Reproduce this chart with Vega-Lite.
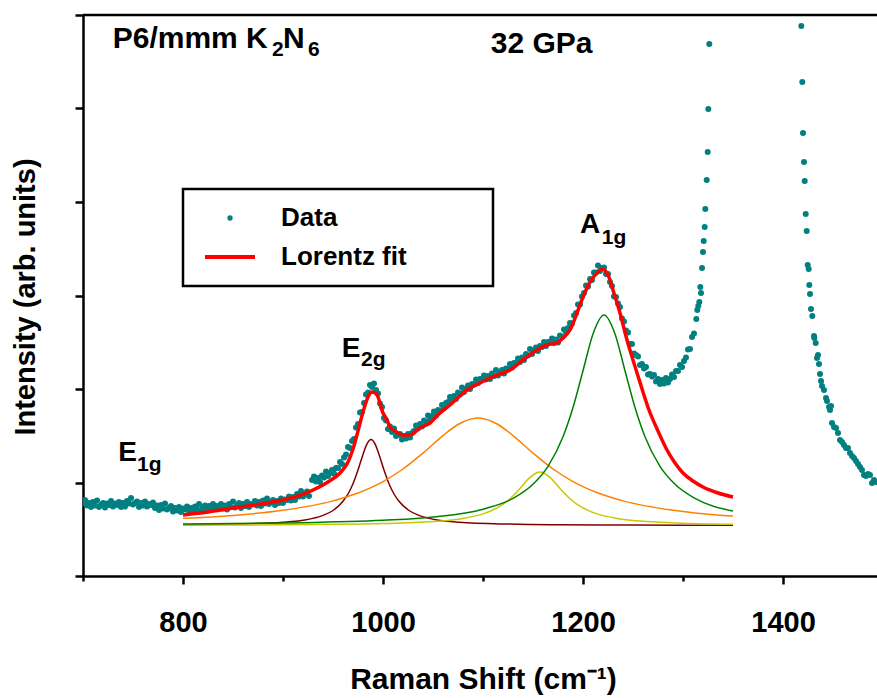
{
  "$schema": "https://vega.github.io/schema/vega-lite/v6.json",
  "autosize": {"type": "none"},
  "padding": {"left": 83, "top": 15, "right": 0, "bottom": 122},
  "width": 794,
  "height": 561,
  "background": "white",
  "config": {
    "view": {"stroke": null},
    "font": "Liberation Sans",
    "legend": {
      "orient": "none", "legendX": 100, "legendY": 174,
      "padding": 16, "rowPadding": 13,
      "strokeColor": "black", "strokeWidth": 2.5,
      "symbolOffset": 18, "labelOffset": 38, "symbolSize": 28, "symbolStrokeWidth": 0,
      "labelFont": "Liberation Sans", "labelFontWeight": "bold", "labelFontSize": 26, "labelColor": "black",
      "labelLimit": 0, "labelBaseline": "middle"
    }
  },
  "encoding": {
    "x": {"field": "x", "type": "quantitative", "scale": {"domain": [700, 1494], "nice": false, "zero": false},
      "axis": {"orient": "bottom", "values": [700,800,900,1000,1100,1200,1300,1400], "format": "d",
        "labelExpr": "datum.value % 200 == 0 ? datum.label : ''",
        "labelFont": "Liberation Sans", "labelFontWeight": "bold", "labelFontSize": 29, "labelColor": "black",
        "labelPadding": 24, "labelFlush": false, "labelOverlap": false,
        "tickSize": {"condition": {"test": "datum.value % 200 == 0", "value": 8}, "value": 5},
        "tickWidth": 2.5, "tickColor": "black", "domainColor": "black", "domainWidth": 2.5, "grid": false,
        "title": "Raman Shift (cm⁻¹)", "titleFont": "Liberation Sans", "titleFontWeight": "bold", "titleFontSize": 30, "titleColor": "black",
        "titleX": 400, "titleY": 112, "titleBaseline": "alphabetic", "titleAlign": "center"}},
    "y": {"field": "y", "type": "quantitative", "scale": {"domain": [0, 561], "nice": false, "zero": false},
      "axis": {"orient": "left", "values": [0, 93.5, 187, 280.5, 374, 467.5, 561], "labels": false,
        "tickSize": 8, "tickWidth": 2.5, "tickColor": "black", "domainColor": "black", "domainWidth": 2.5, "grid": false,
        "title": "Intensity (arb. units)", "titleFont": "Liberation Sans", "titleFontWeight": "bold", "titleFontSize": 29, "titleColor": "black",
        "titleX": -49, "titleY": 281.5, "titleAngle": 270, "titleBaseline": "alphabetic", "titleAlign": "center"}}
  },
  "datasets": {
    "pts": [
      {"s":"Data","x":700,"y":73},{"s":"Data","x":702,"y":76},{"s":"Data","x":704,"y":70.5},{"s":"Data","x":706,"y":73},{"s":"Data","x":708,"y":69},{"s":"Data","x":710,"y":74},{"s":"Data","x":712,"y":70.5},{"s":"Data","x":714,"y":75.5},{"s":"Data","x":716,"y":69},{"s":"Data","x":718,"y":71},
      {"s":"Data","x":720,"y":73},{"s":"Data","x":722,"y":68.5},{"s":"Data","x":724,"y":72.5},{"s":"Data","x":726,"y":71},{"s":"Data","x":728,"y":75},{"s":"Data","x":730,"y":69.5},{"s":"Data","x":732,"y":72.5},{"s":"Data","x":734,"y":71},{"s":"Data","x":736,"y":74},{"s":"Data","x":738,"y":69},
      {"s":"Data","x":740,"y":73},{"s":"Data","x":742,"y":69.5},{"s":"Data","x":744,"y":75},{"s":"Data","x":746,"y":72.5},{"s":"Data","x":748,"y":78},{"s":"Data","x":750,"y":71.5},{"s":"Data","x":752,"y":73},{"s":"Data","x":754,"y":74.5},{"s":"Data","x":756,"y":69},{"s":"Data","x":758,"y":73},
      {"s":"Data","x":760,"y":70.5},{"s":"Data","x":762,"y":74.5},{"s":"Data","x":764,"y":69.5},{"s":"Data","x":766,"y":72},{"s":"Data","x":768,"y":71},{"s":"Data","x":770,"y":73.5},{"s":"Data","x":772,"y":68},{"s":"Data","x":774,"y":70.5},{"s":"Data","x":776,"y":66},{"s":"Data","x":778,"y":71},
      {"s":"Data","x":780,"y":67.5},{"s":"Data","x":782,"y":72.5},{"s":"Data","x":784,"y":66.5},{"s":"Data","x":786,"y":68},{"s":"Data","x":788,"y":70},{"s":"Data","x":790,"y":64.5},{"s":"Data","x":792,"y":68},{"s":"Data","x":794,"y":65.5},{"s":"Data","x":796,"y":69},{"s":"Data","x":798,"y":64},
      {"s":"Data","x":800,"y":67.5},{"s":"Data","x":802,"y":66.5},{"s":"Data","x":804,"y":69.5},{"s":"Data","x":806,"y":65},{"s":"Data","x":808,"y":68},{"s":"Data","x":810,"y":64.5},{"s":"Data","x":812,"y":69.5},{"s":"Data","x":814,"y":66.5},{"s":"Data","x":816,"y":72},{"s":"Data","x":818,"y":66},
      {"s":"Data","x":820,"y":68.5},{"s":"Data","x":822,"y":70.5},{"s":"Data","x":824,"y":65.5},{"s":"Data","x":826,"y":70},{"s":"Data","x":828,"y":68},{"s":"Data","x":830,"y":72},{"s":"Data","x":832,"y":67},{"s":"Data","x":834,"y":70},{"s":"Data","x":836,"y":69},{"s":"Data","x":838,"y":72},
      {"s":"Data","x":840,"y":67.5},{"s":"Data","x":842,"y":70.5},{"s":"Data","x":844,"y":66.5},{"s":"Data","x":846,"y":72},{"s":"Data","x":848,"y":69},{"s":"Data","x":850,"y":74.5},{"s":"Data","x":852,"y":68.5},{"s":"Data","x":854,"y":70.5},{"s":"Data","x":856,"y":73},{"s":"Data","x":858,"y":68},
      {"s":"Data","x":860,"y":72},{"s":"Data","x":862,"y":70},{"s":"Data","x":864,"y":74},{"s":"Data","x":866,"y":69},{"s":"Data","x":868,"y":72},{"s":"Data","x":870,"y":71.5},{"s":"Data","x":872,"y":75},{"s":"Data","x":874,"y":70.5},{"s":"Data","x":876,"y":74},{"s":"Data","x":878,"y":70},
      {"s":"Data","x":880,"y":75.5},{"s":"Data","x":882,"y":72.5},{"s":"Data","x":884,"y":77.5},{"s":"Data","x":886,"y":72},{"s":"Data","x":888,"y":74},{"s":"Data","x":890,"y":76},{"s":"Data","x":892,"y":71},{"s":"Data","x":894,"y":75},{"s":"Data","x":896,"y":73},{"s":"Data","x":898,"y":77.5},
      {"s":"Data","x":900,"y":73},{"s":"Data","x":902,"y":76.5},{"s":"Data","x":904,"y":76},{"s":"Data","x":906,"y":79.5},{"s":"Data","x":908,"y":75.5},{"s":"Data","x":910,"y":79},{"s":"Data","x":912,"y":76},{"s":"Data","x":914,"y":82},{"s":"Data","x":916,"y":79.5},{"s":"Data","x":918,"y":85},
      {"s":"Data","x":920,"y":79.5},{"s":"Data","x":922,"y":82},{"s":"Data","x":924,"y":84.5},{"s":"Data","x":926,"y":80},
      {"s":"Data","x":929,"y":96},{"s":"Data","x":931,"y":99.5},{"s":"Data","x":933,"y":94.5},{"s":"Data","x":935,"y":98},{"s":"Data","x":937,"y":94},{"s":"Data","x":939,"y":100.5},{"s":"Data","x":941,"y":98.5},{"s":"Data","x":943,"y":104.5},{"s":"Data","x":945,"y":100},{"s":"Data","x":947,"y":103},
      {"s":"Data","x":949,"y":106},{"s":"Data","x":951,"y":102.5},{"s":"Data","x":953,"y":108},{"s":"Data","x":955,"y":108},{"s":"Data","x":957,"y":114},{"s":"Data","x":959,"y":112},{"s":"Data","x":961,"y":118.5},{"s":"Data","x":963,"y":121.5},{"s":"Data","x":965,"y":129},{"s":"Data","x":967,"y":128},
      {"s":"Data","x":969,"y":135},{"s":"Data","x":971,"y":137},{"s":"Data","x":973,"y":148.5},{"s":"Data","x":975,"y":152},{"s":"Data","x":977,"y":163.5},{"s":"Data","x":979,"y":164},{"s":"Data","x":981,"y":173},{"s":"Data","x":983,"y":181.5},{"s":"Data","x":985,"y":183.5},{"s":"Data","x":987,"y":191},
      {"s":"Data","x":989,"y":189},{"s":"Data","x":991,"y":192.5},{"s":"Data","x":993,"y":186},{"s":"Data","x":995,"y":182.5},{"s":"Data","x":997,"y":172.5},{"s":"Data","x":999,"y":169},{"s":"Data","x":1001,"y":158},{"s":"Data","x":1003,"y":155.5},{"s":"Data","x":1005,"y":147},{"s":"Data","x":1007,"y":149.5},
      {"s":"Data","x":1009,"y":144},{"s":"Data","x":1011,"y":147.5},{"s":"Data","x":1013,"y":140},{"s":"Data","x":1015,"y":141},{"s":"Data","x":1017,"y":142},{"s":"Data","x":1019,"y":136.5},{"s":"Data","x":1021,"y":140},{"s":"Data","x":1023,"y":137.5},{"s":"Data","x":1025,"y":142},{"s":"Data","x":1027,"y":138.5},
      {"s":"Data","x":1029,"y":143},{"s":"Data","x":1031,"y":145},{"s":"Data","x":1033,"y":150.5},{"s":"Data","x":1035,"y":147.5},{"s":"Data","x":1037,"y":152},{"s":"Data","x":1039,"y":149.5},{"s":"Data","x":1041,"y":155.5},{"s":"Data","x":1043,"y":154},{"s":"Data","x":1045,"y":160.5},{"s":"Data","x":1047,"y":156},
      {"s":"Data","x":1049,"y":160},{"s":"Data","x":1051,"y":164.5},{"s":"Data","x":1053,"y":160.5},{"s":"Data","x":1055,"y":166},{"s":"Data","x":1057,"y":165},{"s":"Data","x":1059,"y":171},{"s":"Data","x":1061,"y":168},{"s":"Data","x":1063,"y":173},{"s":"Data","x":1065,"y":174},{"s":"Data","x":1067,"y":179},
      {"s":"Data","x":1069,"y":175.5},{"s":"Data","x":1071,"y":180},{"s":"Data","x":1073,"y":177},{"s":"Data","x":1075,"y":183.5},{"s":"Data","x":1077,"y":182},{"s":"Data","x":1079,"y":188.5},{"s":"Data","x":1081,"y":184},{"s":"Data","x":1083,"y":187},{"s":"Data","x":1085,"y":190.5},{"s":"Data","x":1087,"y":187},
      {"s":"Data","x":1089,"y":192},{"s":"Data","x":1091,"y":191.5},{"s":"Data","x":1093,"y":196.5},{"s":"Data","x":1095,"y":193},{"s":"Data","x":1097,"y":197},{"s":"Data","x":1099,"y":197},{"s":"Data","x":1101,"y":200.5},{"s":"Data","x":1103,"y":196.5},{"s":"Data","x":1105,"y":200},{"s":"Data","x":1107,"y":197},
      {"s":"Data","x":1109,"y":202.5},{"s":"Data","x":1111,"y":200},{"s":"Data","x":1113,"y":206},{"s":"Data","x":1115,"y":200.5},{"s":"Data","x":1117,"y":203},{"s":"Data","x":1119,"y":206},{"s":"Data","x":1121,"y":202.5},{"s":"Data","x":1123,"y":207.5},{"s":"Data","x":1125,"y":207},{"s":"Data","x":1127,"y":212},
      {"s":"Data","x":1129,"y":208.5},{"s":"Data","x":1131,"y":213},{"s":"Data","x":1133,"y":213},{"s":"Data","x":1135,"y":217.5},{"s":"Data","x":1137,"y":214},{"s":"Data","x":1139,"y":218.5},{"s":"Data","x":1141,"y":216},{"s":"Data","x":1143,"y":222},{"s":"Data","x":1145,"y":220.5},{"s":"Data","x":1147,"y":227},
      {"s":"Data","x":1149,"y":222},{"s":"Data","x":1151,"y":225.5},{"s":"Data","x":1153,"y":228.5},{"s":"Data","x":1155,"y":225},{"s":"Data","x":1157,"y":230},{"s":"Data","x":1159,"y":229},{"s":"Data","x":1161,"y":234},{"s":"Data","x":1163,"y":230},{"s":"Data","x":1165,"y":234},{"s":"Data","x":1167,"y":234},
      {"s":"Data","x":1169,"y":237.5},{"s":"Data","x":1171,"y":233},{"s":"Data","x":1173,"y":236.5},{"s":"Data","x":1175,"y":233.5},{"s":"Data","x":1177,"y":240.5},{"s":"Data","x":1179,"y":239},{"s":"Data","x":1181,"y":246.5},{"s":"Data","x":1183,"y":243.5},{"s":"Data","x":1185,"y":248},{"s":"Data","x":1187,"y":253},
      {"s":"Data","x":1189,"y":252.5},{"s":"Data","x":1191,"y":260.5},{"s":"Data","x":1193,"y":263},{"s":"Data","x":1195,"y":271.5},{"s":"Data","x":1197,"y":271.5},{"s":"Data","x":1199,"y":279.5},{"s":"Data","x":1201,"y":283},{"s":"Data","x":1203,"y":290.5},{"s":"Data","x":1205,"y":289.5},{"s":"Data","x":1207,"y":297},
      {"s":"Data","x":1209,"y":296},{"s":"Data","x":1211,"y":303.5},{"s":"Data","x":1213,"y":303.5},{"s":"Data","x":1215,"y":310.5},{"s":"Data","x":1217,"y":305},{"s":"Data","x":1219,"y":308},{"s":"Data","x":1221,"y":308.5},{"s":"Data","x":1223,"y":302},{"s":"Data","x":1225,"y":302},{"s":"Data","x":1227,"y":294},
      {"s":"Data","x":1229,"y":290},{"s":"Data","x":1231,"y":279.5},{"s":"Data","x":1233,"y":279},{"s":"Data","x":1235,"y":272.5},{"s":"Data","x":1237,"y":269},{"s":"Data","x":1239,"y":257.5},{"s":"Data","x":1241,"y":254.5},{"s":"Data","x":1243,"y":245.5},{"s":"Data","x":1245,"y":243.5},{"s":"Data","x":1247,"y":232},
      {"s":"Data","x":1249,"y":232},{"s":"Data","x":1251,"y":222.5},{"s":"Data","x":1253,"y":221},{"s":"Data","x":1255,"y":219.5},{"s":"Data","x":1257,"y":211},{"s":"Data","x":1259,"y":212},{"s":"Data","x":1261,"y":207.5},{"s":"Data","x":1263,"y":209},{"s":"Data","x":1265,"y":201.5},{"s":"Data","x":1267,"y":202},
      {"s":"Data","x":1269,"y":199.5},{"s":"Data","x":1271,"y":201},{"s":"Data","x":1273,"y":194.5},{"s":"Data","x":1275,"y":197},{"s":"Data","x":1277,"y":192},{"s":"Data","x":1279,"y":196},{"s":"Data","x":1281,"y":192.5},{"s":"Data","x":1283,"y":198},{"s":"Data","x":1285,"y":193.5},{"s":"Data","x":1287,"y":197},
      {"s":"Data","x":1289,"y":201.5},{"s":"Data","x":1291,"y":199},{"s":"Data","x":1293,"y":205},{"s":"Data","x":1295,"y":205},{"s":"Data","x":1297,"y":211},{"s":"Data","x":1299,"y":209},{"s":"Data","x":1301,"y":215},{"s":"Data","x":1303,"y":218.5},{"s":"Data","x":1305,"y":226.5},{"s":"Data","x":1307,"y":227},
      {"s":"Data","x":1309,"y":239},{"s":"Data","x":1311,"y":242.5},
      {"s":"Data","x":1313.3,"y":257},{"s":"Data","x":1314.3,"y":266},{"s":"Data","x":1315.3,"y":270},{"s":"Data","x":1316.3,"y":274},{"s":"Data","x":1317.3,"y":289},{"s":"Data","x":1318,"y":283},{"s":"Data","x":1319,"y":308},{"s":"Data","x":1320,"y":324},{"s":"Data","x":1320.7,"y":335},{"s":"Data","x":1321.7,"y":349},
      {"s":"Data","x":1322.3,"y":367},{"s":"Data","x":1323.7,"y":396},{"s":"Data","x":1324.7,"y":424},{"s":"Data","x":1325.3,"y":467},{"s":"Data","x":1326.3,"y":532},
      {"s":"Data","x":1418.3,"y":550},{"s":"Data","x":1419.3,"y":494},{"s":"Data","x":1420,"y":443},{"s":"Data","x":1421,"y":414},{"s":"Data","x":1421.7,"y":395},{"s":"Data","x":1422.7,"y":362},{"s":"Data","x":1423.7,"y":345},{"s":"Data","x":1424.7,"y":311},{"s":"Data","x":1425.7,"y":307},{"s":"Data","x":1426.3,"y":291},
      {"s":"Data","x":1427,"y":282},{"s":"Data","x":1428,"y":267},{"s":"Data","x":1429.3,"y":260},{"s":"Data","x":1431,"y":240},{"s":"Data","x":1431.3,"y":238},{"s":"Data","x":1432.7,"y":233},{"s":"Data","x":1434,"y":218},{"s":"Data","x":1435,"y":221},{"s":"Data","x":1436,"y":212},{"s":"Data","x":1437,"y":202},
      {"s":"Data","x":1438,"y":195},{"s":"Data","x":1439,"y":190},{"s":"Data","x":1441,"y":186},{"s":"Data","x":1443,"y":178},{"s":"Data","x":1444,"y":175},{"s":"Data","x":1446,"y":169},{"s":"Data","x":1447,"y":166},{"s":"Data","x":1448,"y":170},{"s":"Data","x":1449,"y":153},{"s":"Data","x":1451,"y":149},
      {"s":"Data","x":1453,"y":148},{"s":"Data","x":1455,"y":143},{"s":"Data","x":1457,"y":136},{"s":"Data","x":1459,"y":134},{"s":"Data","x":1461,"y":131},{"s":"Data","x":1463,"y":128},{"s":"Data","x":1465,"y":128},{"s":"Data","x":1467,"y":123},{"s":"Data","x":1469,"y":120},{"s":"Data","x":1471,"y":118},
      {"s":"Data","x":1473,"y":115},{"s":"Data","x":1475,"y":112},{"s":"Data","x":1477,"y":109},{"s":"Data","x":1479,"y":106},{"s":"Data","x":1481,"y":101},{"s":"Data","x":1483,"y":100},{"s":"Data","x":1485,"y":102},{"s":"Data","x":1487,"y":101},{"s":"Data","x":1489,"y":93},{"s":"Data","x":1491,"y":96},{"s":"Data","x":1493,"y":94}
    ],
    "fit": [
      {"x":800,"y":61},{"x":825,"y":64},{"x":850,"y":68},{"x":875,"y":71.5},{"x":900,"y":76},{"x":915,"y":80},{"x":930,"y":86},{"x":945,"y":94},{"x":957,"y":103},{"x":965,"y":114},
      {"x":970,"y":127},{"x":975,"y":145},{"x":980,"y":164},{"x":985,"y":179},{"x":989,"y":184},{"x":994,"y":181},{"x":1000,"y":163},{"x":1004,"y":156},{"x":1007,"y":149},{"x":1012,"y":145},
      {"x":1020,"y":141},{"x":1027,"y":141},{"x":1037,"y":148},{"x":1047,"y":153},{"x":1057,"y":163},{"x":1067,"y":171},{"x":1077,"y":180},{"x":1087,"y":188},{"x":1097,"y":193},{"x":1107,"y":198},
      {"x":1117,"y":202},{"x":1127,"y":206},{"x":1140,"y":216},{"x":1154,"y":226},{"x":1164,"y":231},{"x":1174,"y":233},{"x":1180,"y":238},{"x":1187,"y":246},{"x":1194,"y":263},{"x":1200,"y":279},
      {"x":1207,"y":294},{"x":1214,"y":303},{"x":1219,"y":307},{"x":1224,"y":303},{"x":1227,"y":296},{"x":1230,"y":286},{"x":1237,"y":263},{"x":1244,"y":236},{"x":1250,"y":216},{"x":1255,"y":200},
      {"x":1260,"y":184},{"x":1266,"y":166},{"x":1275,"y":145},{"x":1284,"y":126},{"x":1292,"y":113},{"x":1300,"y":103},{"x":1310,"y":95},{"x":1320,"y":89},{"x":1335,"y":83},{"x":1350,"y":79}
    ],
    "comps": [
      {"c":"E2g","x":800,"y":51.2},{"c":"E2g","x":850,"y":51.9},{"c":"E2g","x":900,"y":53.8},{"c":"E2g","x":920,"y":55.8},{"c":"E2g","x":940,"y":60.6},{"c":"E2g","x":950,"y":65.5},{"c":"E2g","x":960,"y":74.7},{"c":"E2g","x":965,"y":82},{"c":"E2g","x":970,"y":92.3},{"c":"E2g","x":975,"y":105.9},{"c":"E2g","x":980,"y":121.6},{"c":"E2g","x":984,"y":132.2},{"c":"E2g","x":988,"y":136.5},{"c":"E2g","x":992,"y":132.2},{"c":"E2g","x":996,"y":121.6},{"c":"E2g","x":1001,"y":105.9},{"c":"E2g","x":1006,"y":92.3},{"c":"E2g","x":1011,"y":82},{"c":"E2g","x":1016,"y":74.7},{"c":"E2g","x":1026,"y":65.5},{"c":"E2g","x":1036,"y":60.6},{"c":"E2g","x":1056,"y":55.8},{"c":"E2g","x":1076,"y":53.8},{"c":"E2g","x":1126,"y":51.9},{"c":"E2g","x":1176,"y":51.2},{"c":"E2g","x":1250,"y":50.9},{"c":"E2g","x":1350,"y":50.7},
      {"c":"broad","x":800,"y":57.7},{"c":"broad","x":850,"y":60.6},{"c":"broad","x":900,"y":65.7},{"c":"broad","x":950,"y":75.1},{"c":"broad","x":975,"y":83},{"c":"broad","x":1000,"y":94.4},{"c":"broad","x":1020,"y":107},{"c":"broad","x":1040,"y":122.9},{"c":"broad","x":1060,"y":140.4},{"c":"broad","x":1075,"y":151.5},{"c":"broad","x":1095,"y":158},{"c":"broad","x":1115,"y":151.5},{"c":"broad","x":1130,"y":140.4},{"c":"broad","x":1150,"y":122.9},{"c":"broad","x":1170,"y":107},{"c":"broad","x":1190,"y":94.4},{"c":"broad","x":1215,"y":83},{"c":"broad","x":1240,"y":75.1},{"c":"broad","x":1290,"y":65.7},{"c":"broad","x":1340,"y":60.6},{"c":"broad","x":1350,"y":59.9},
      {"c":"shoulder","x":800,"y":50.9},{"c":"shoulder","x":900,"y":51.2},{"c":"shoulder","x":1000,"y":52.4},{"c":"shoulder","x":1050,"y":54.4},{"c":"shoulder","x":1080,"y":57.6},{"c":"shoulder","x":1100,"y":62.1},{"c":"shoulder","x":1115,"y":68.6},{"c":"shoulder","x":1127,"y":77.3},{"c":"shoulder","x":1137,"y":87.5},{"c":"shoulder","x":1147,"y":98.7},{"c":"shoulder","x":1157,"y":104},{"c":"shoulder","x":1167,"y":98.7},{"c":"shoulder","x":1177,"y":87.5},{"c":"shoulder","x":1187,"y":77.3},{"c":"shoulder","x":1199,"y":68.6},{"c":"shoulder","x":1214,"y":62.1},{"c":"shoulder","x":1234,"y":57.6},{"c":"shoulder","x":1264,"y":54.4},{"c":"shoulder","x":1300,"y":52.8},{"c":"shoulder","x":1350,"y":51.8},
      {"c":"A1g","x":800,"y":51.9},{"c":"A1g","x":900,"y":53},{"c":"A1g","x":1000,"y":55.7},{"c":"A1g","x":1050,"y":59},{"c":"A1g","x":1100,"y":66.8},{"c":"A1g","x":1130,"y":77.6},{"c":"A1g","x":1150,"y":91.7},{"c":"A1g","x":1165,"y":109.6},{"c":"A1g","x":1180,"y":139.2},{"c":"A1g","x":1190,"y":168.5},{"c":"A1g","x":1200,"y":205.3},{"c":"A1g","x":1210,"y":242.1},{"c":"A1g","x":1221,"y":261},{"c":"A1g","x":1232,"y":242.1},{"c":"A1g","x":1242,"y":205.3},{"c":"A1g","x":1252,"y":168.5},{"c":"A1g","x":1262,"y":139.2},{"c":"A1g","x":1277,"y":109.6},{"c":"A1g","x":1292,"y":91.7},{"c":"A1g","x":1312,"y":77.6},{"c":"A1g","x":1350,"y":64.9}
    ],
    "big": [
      {"x":729.7,"y":527.7,"t":"P6/mmm K"},{"x":900,"y":527.7,"t":"N"},{"x":1107.7,"y":522.7,"t":"32 GPa"}
    ],
    "peaks": [
      {"x":735.3,"y":115.3,"t":"E"},{"x":958.7,"y":219.3,"t":"E"},{"x":1197,"y":342.7,"t":"A"}
    ],
    "subs": [
      {"x":889,"y":520,"t":"2"},{"x":925,"y":520,"t":"6"},{"x":754,"y":105.3,"t":"1g"},{"x":978,"y":210,"t":"2g"},{"x":1218.7,"y":332,"t":"1g"}
    ],
    "frame": [{"x": 700, "x2": 1494, "y": 561}]
  },
  "layer": [
    {
      "data": {"name": "pts"},
      "mark": {"type": "point", "filled": true, "size": 36, "opacity": 1, "clip": true},
      "encoding": {
        "color": {"field": "s", "type": "nominal",
          "scale": {"domain": ["Data", "Lorentz fit\u00a0\u00a0\u00a0\u00a0\u00a0\u00a0\u00a0\u2800"], "range": ["#008080", "#ff0000"]},
          "legend": {"title": null}},
        "shape": {"field": "s", "type": "nominal",
          "scale": {"domain": ["Data", "Lorentz fit\u00a0\u00a0\u00a0\u00a0\u00a0\u00a0\u00a0\u2800"], "range": ["circle", "M-9.45,-0.72H9.45V0.72H-9.45Z"]},
          "legend": {"title": null}}
      }
    },
    {
      "data": {"name": "comps"},
      "mark": {"type": "line", "strokeWidth": 1.5, "interpolate": "monotone"},
      "encoding": {
        "stroke": {"field": "c", "type": "nominal", "legend": null,
          "scale": {"domain": ["E2g", "broad", "shoulder", "A1g"], "range": ["#800000", "#ff8000", "#c8c800", "#008000"]}}
      }
    },
    {
      "data": {"name": "fit"},
      "mark": {"type": "line", "strokeWidth": 3.5, "color": "#ff0000", "interpolate": "monotone"},
      "encoding": {}
    },
    {
      "data": {"name": "frame"},
      "mark": {"type": "rule", "strokeWidth": 2.5, "color": "black"},
      "encoding": {
        "x2": {"field": "x2"}
      }
    },
    {
      "data": {"name": "big"},
      "mark": {"type": "text", "font": "Liberation Sans", "fontWeight": "bold", "fontSize": 30, "align": "left", "baseline": "alphabetic", "color": "black"},
      "encoding": {"text": {"field": "t"}}
    },
    {
      "data": {"name": "peaks"},
      "mark": {"type": "text", "font": "Liberation Sans", "fontWeight": "bold", "fontSize": 28, "align": "left", "baseline": "alphabetic", "color": "black"},
      "encoding": {"text": {"field": "t"}}
    },
    {
      "data": {"name": "subs"},
      "mark": {"type": "text", "font": "Liberation Sans", "fontWeight": "bold", "fontSize": 21, "align": "left", "baseline": "alphabetic", "color": "black"},
      "encoding": {"text": {"field": "t"}}
    }
  ]
}
